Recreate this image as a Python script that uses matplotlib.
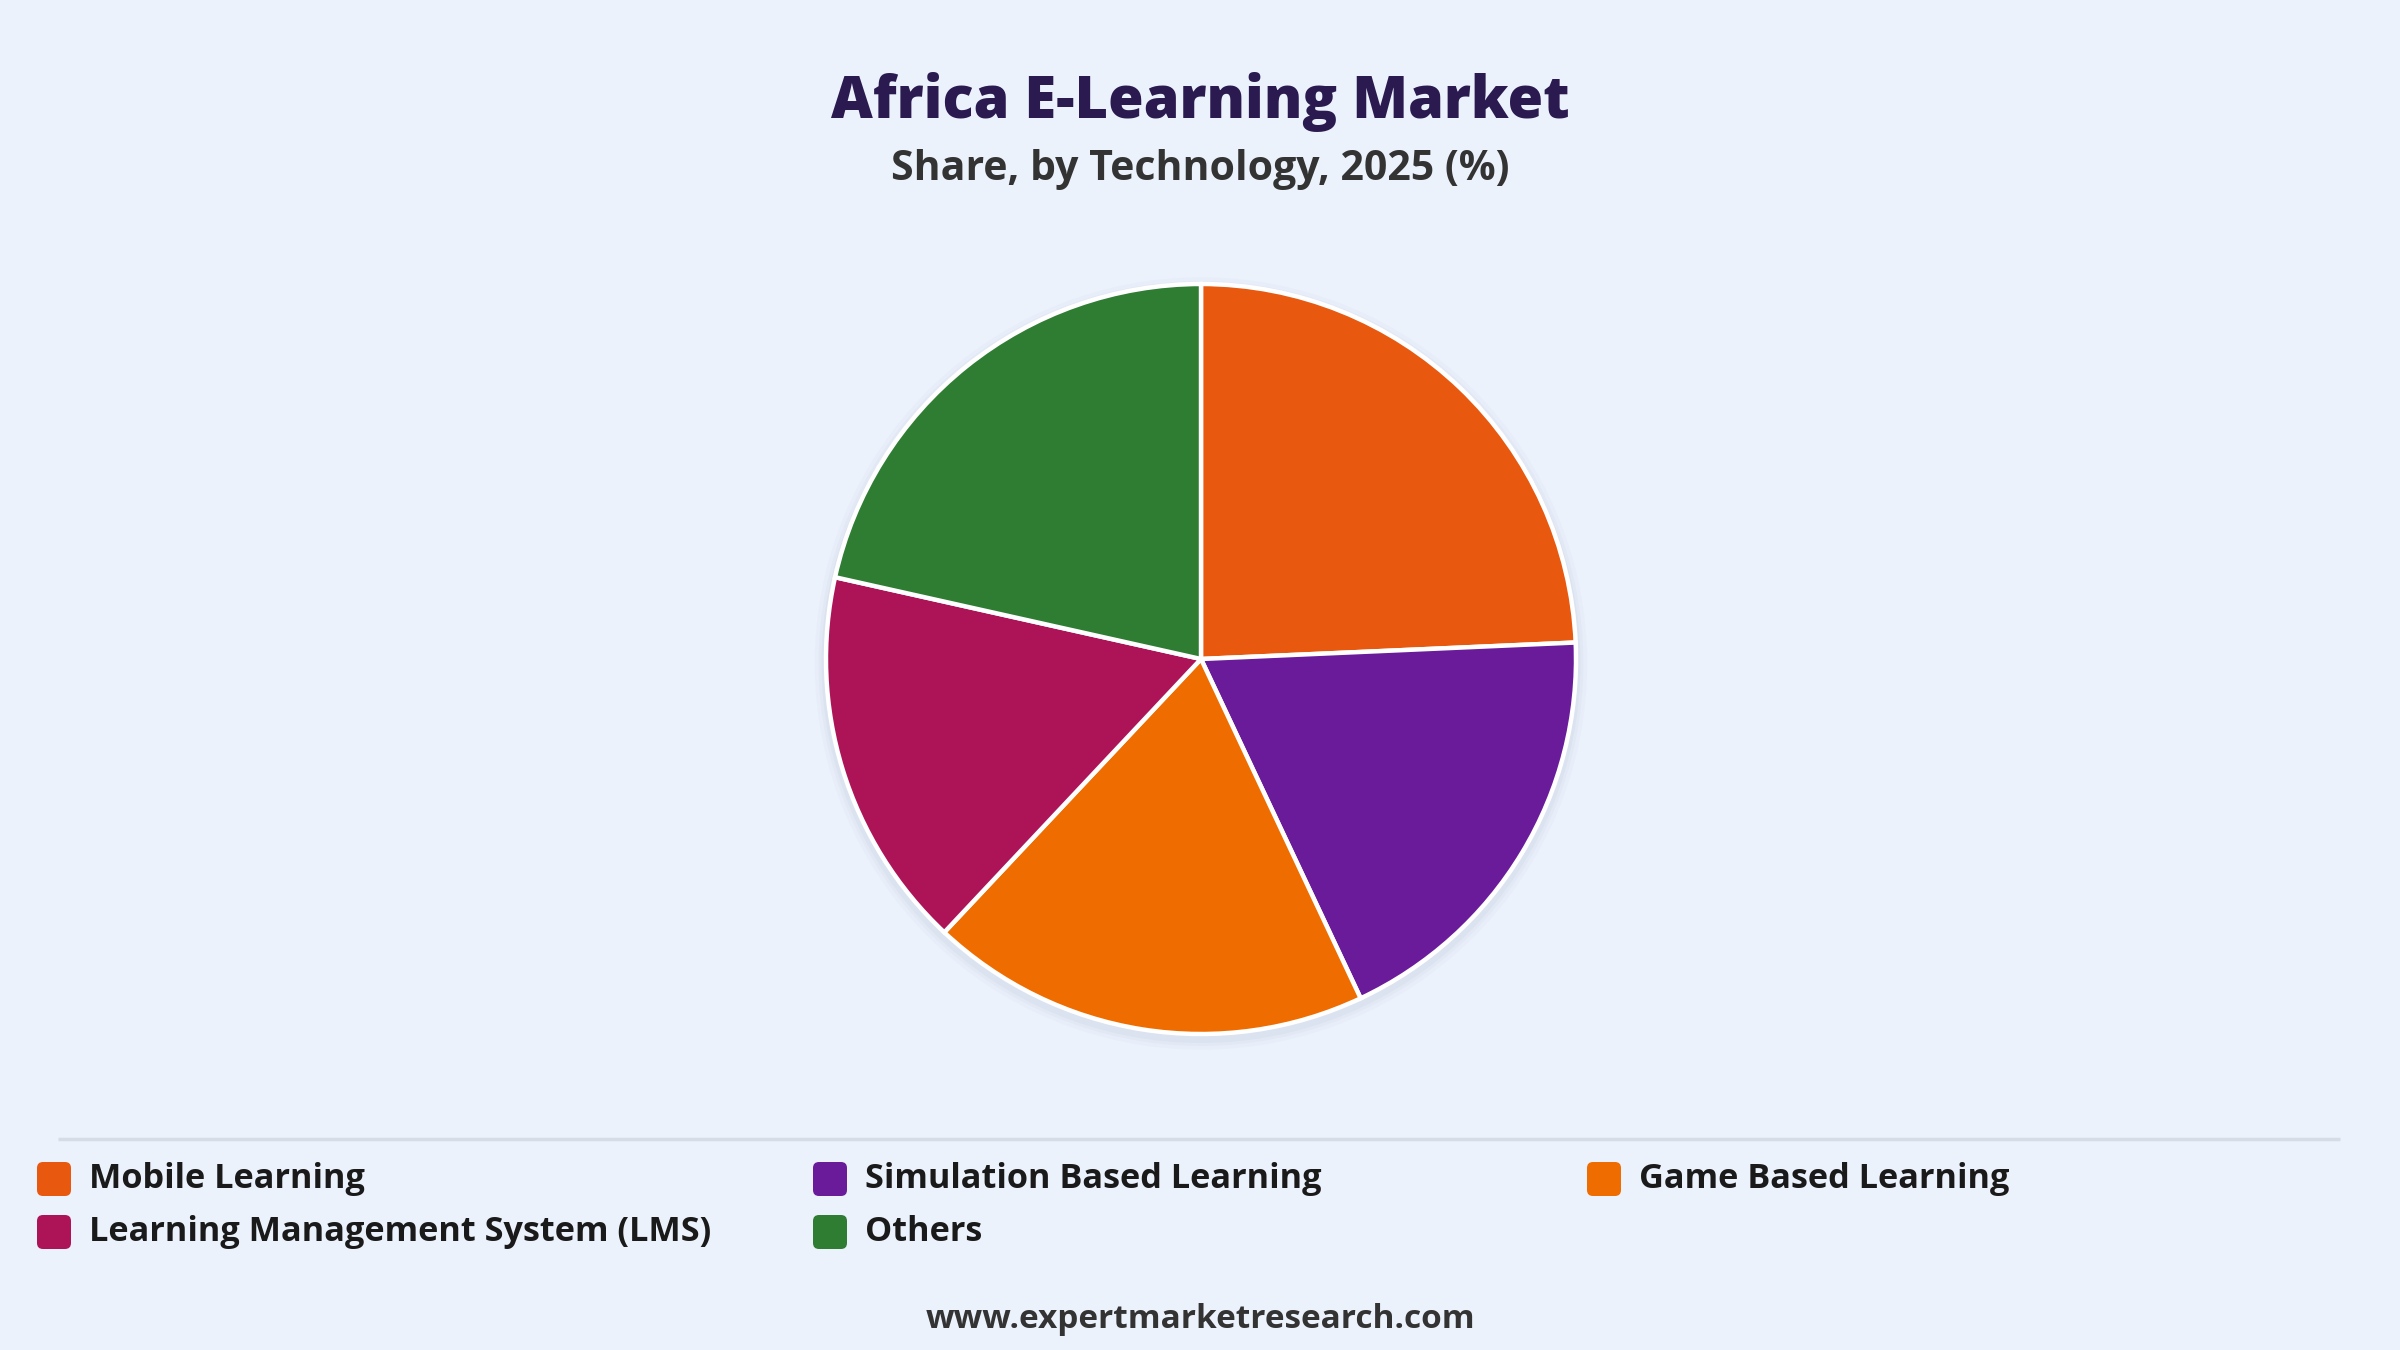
import matplotlib.pyplot as plt
from matplotlib.patches import FancyBboxPatch, Circle

# data
labels = ["Mobile Learning", "Simulation Based Learning", "Game Based Learning",
          "Learning Management System (LMS)", "Others"]
shares = [24.3, 18.7, 19.0, 16.5, 21.5]
colors = ["#E8590F", "#6A1B9A", "#EF6C00", "#AD1457", "#2E7D32"]

bg = "#EBF2FC"
plt.rcParams['font.family'] = ['Open Sans', 'DejaVu Sans']

fig = plt.figure(figsize=(24, 13.5), dpi=100, facecolor=bg)

# overlay in pixel coords for texts, legend and separator
ov = fig.add_axes([0, 0, 1, 1])
ov.set_xlim(0, 2400)
ov.set_ylim(1350, 0)
ov.axis('off')

ov.text(1200, 102, "Africa E-Learning Market", ha='center', va='center',
        fontsize=41.5, fontweight='heavy', color="#2B1A4F")
ov.text(1200, 170, "Share, by Technology, 2025 (%)", ha='center', va='center',
        fontsize=29.5, fontweight='bold', color="#333333")
ov.text(1200, 1319, "www.expertmarketresearch.com", ha='center', va='center',
        fontsize=24, fontweight='bold', color="#333333")

ov.plot([58, 2340], [1139, 1139], color="#D6DCE3", lw=2.5, solid_capstyle='butt')

col_x = [37, 813, 1587]
row_y = [1179, 1232]
for i, (lab, c) in enumerate(zip(labels, colors)):
    x = col_x[i % 3]
    y = row_y[i // 3]
    ov.add_patch(FancyBboxPatch((x, y - 17), 34, 34,
                                boxstyle="round,pad=0,rounding_size=6",
                                fc=c, ec='none'))
    ov.text(x + 52, y, lab, ha='left', va='center', fontsize=24.7,
            fontweight='bold', color="#1A1A1A")

# pie
cx, cy, r = 1201, 659, 375
pad = 1.05
ax = fig.add_axes([(cx - r * pad) / 2400, (1350 - cy - r * pad) / 1350,
                   2 * r * pad / 2400, 2 * r * pad / 1350])
ax.set_aspect('equal')
ax.axis('off')

# soft shadow
for k, a in zip([1.03, 1.02, 1.012], [0.04, 0.05, 0.07]):
    ax.add_patch(Circle((0.0, -0.012), k, fc="#8A9AB0", ec='none', alpha=a, zorder=0))

ax.pie(shares, colors=colors, startangle=90, counterclock=False, radius=1.0,
       wedgeprops=dict(edgecolor='white', linewidth=3.2))
ax.set_xlim(-pad, pad)
ax.set_ylim(-pad, pad)

fig.savefig("out.png", dpi=100, facecolor=bg)
